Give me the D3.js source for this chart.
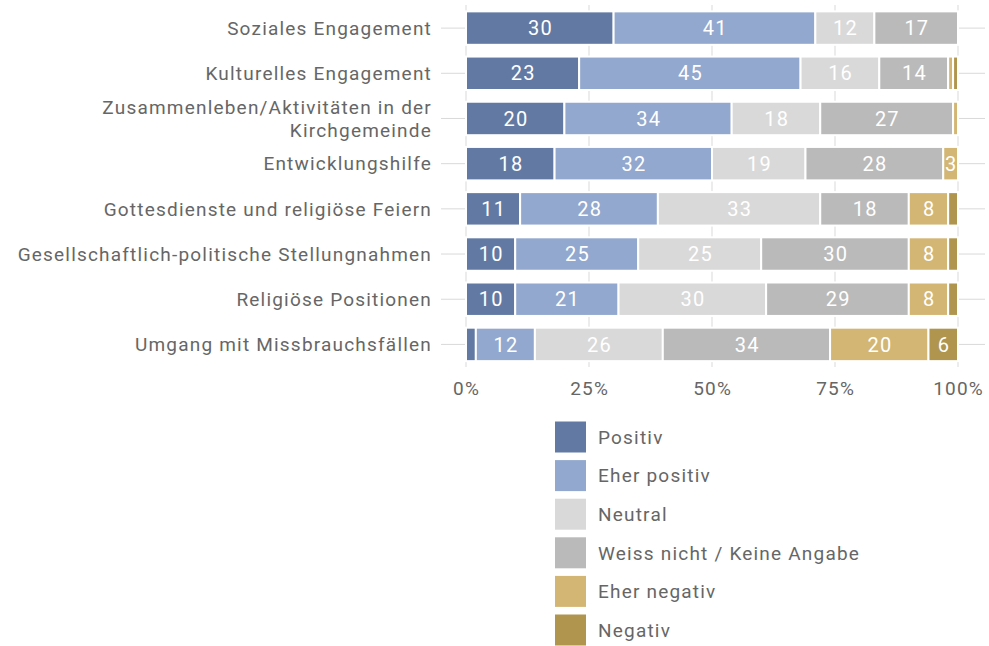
<!DOCTYPE html>
<html><head><meta charset="utf-8">
<script src="https://cdn.jsdelivr.net/npm/d3@7"></script>
<style>body{margin:0;background:#fff}text{font-family:Roboto,"Noto Sans",sans-serif;letter-spacing:1.2px}</style>
</head><body>
<svg id="c" width="989" height="646"></svg>
<script>
const categories = [
  ["Soziales Engagement"],
  ["Kulturelles Engagement"],
  ["Zusammenleben/Aktivitäten in der","Kirchgemeinde"],
  ["Entwicklungshilfe"],
  ["Gottesdienste und religiöse Feiern"],
  ["Gesellschaftlich-politische Stellungnahmen"],
  ["Religiöse Positionen"],
  ["Umgang mit Missbrauchsfällen"]
];
const seriesNames = ["Positiv","Eher positiv","Neutral","Weiss nicht / Keine Angabe","Eher negativ","Negativ"];
const positiv     = [30,23,20,18,11,10,10,2];
const eherPositiv = [41,45,34,32,28,25,21,12];
const neutral     = [12,16,18,19,33,25,30,26];
const weissNicht  = [17,14,27,28,18,30,29,34];
const eherNegativ = [0,1,1,3,8,8,8,20];
const negativ     = [0,1,0,0,2,2,2,6];
const tickValues = [0,25,50,75,100];
const tickLabels = ["0%","25%","50%","75%","100%"];
const colors = ["#627aa3","#92a8ce","#d9d9d9","#bababa","#d3b674","#b0954f"];

const series = [positiv,eherPositiv,neutral,weissNicht,eherNegativ,negativ];
const svg = d3.select("#c");
const x = d3.scaleLinear().domain([0,100]).range([466,958]);
const y = d3.scaleBand().domain(d3.range(categories.length)).range([5.5,367]).paddingInner(0.26).paddingOuter(0.13);
const txt = "#666666";
const fs = 19;

// horizontal grid
svg.append("g").selectAll("line").data(categories).join("line")
  .attr("x1",441).attr("x2",985)
  .attr("y1",(d,i)=>y(i)+y.bandwidth()/2).attr("y2",(d,i)=>y(i)+y.bandwidth()/2)
  .attr("stroke","#d9d9d9").attr("stroke-width",1);
// vertical grid
svg.append("g").selectAll("line").data(tickValues).join("line")
  .attr("x1",d=>x(d)).attr("x2",d=>x(d)).attr("y1",5).attr("y2",367)
  .attr("stroke","#d9d9d9").attr("stroke-width",1);

// stack
const rows = categories.map((c,i)=>{
  let acc=0; return series.map((s,k)=>{const v=s[i]; const o={i,k,v,x0:acc,x1:acc+v}; acc+=v; return o;});
});
const g = svg.append("g");
rows.forEach(r=>{
  g.selectAll(null).data(r.filter(d=>d.v>0)).join("rect")
    .attr("x",d=>x(d.x0)).attr("width",d=>x(d.x1)-x(d.x0))
    .attr("y",d=>y(d.i)).attr("height",y.bandwidth())
    .attr("fill",d=>colors[d.k]).attr("stroke","#fff").attr("stroke-width",2);
  g.selectAll(null).data(r.filter(d=>d.v>=3)).join("text")
    .attr("x",d=>(x(d.x0)+x(d.x1))/2+0.7).attr("y",d=>y(d.i)+y.bandwidth()/2)
    .attr("dy","0.36em").attr("text-anchor","middle").attr("fill","#fff")
    .attr("font-size",20).text(d=>d.v);
});

// y labels
categories.forEach((c,i)=>{
  const t = svg.append("text").attr("text-anchor","end").attr("fill",txt).attr("font-size",fs);
  const cy = y(i)+y.bandwidth()/2;
  const n = c.length;
  c.forEach((line,j)=>{
    t.append("tspan").attr("x",432).attr("y",cy + (j-(n-1)/2)*23).attr("dy","0.36em").text(line);
  });
});

// x labels
svg.append("g").selectAll("text").data(tickValues).join("text")
  .attr("x",d=>x(d)+0.6).attr("y",388).attr("dy","0.36em").attr("text-anchor","middle")
  .attr("fill",txt).attr("font-size",fs).text((d,i)=>tickLabels[i]);

// legend
const lg = svg.append("g");
seriesNames.forEach((n,k)=>{
  const ly = 437 + k*38.6;
  lg.append("rect").attr("x",555).attr("y",ly-15.5).attr("width",31).attr("height",31).attr("fill",colors[k]);
  lg.append("text").attr("x",598).attr("y",ly).attr("dy","0.36em").attr("fill",txt).attr("font-size",fs).text(n);
});
</script>
</body></html>
